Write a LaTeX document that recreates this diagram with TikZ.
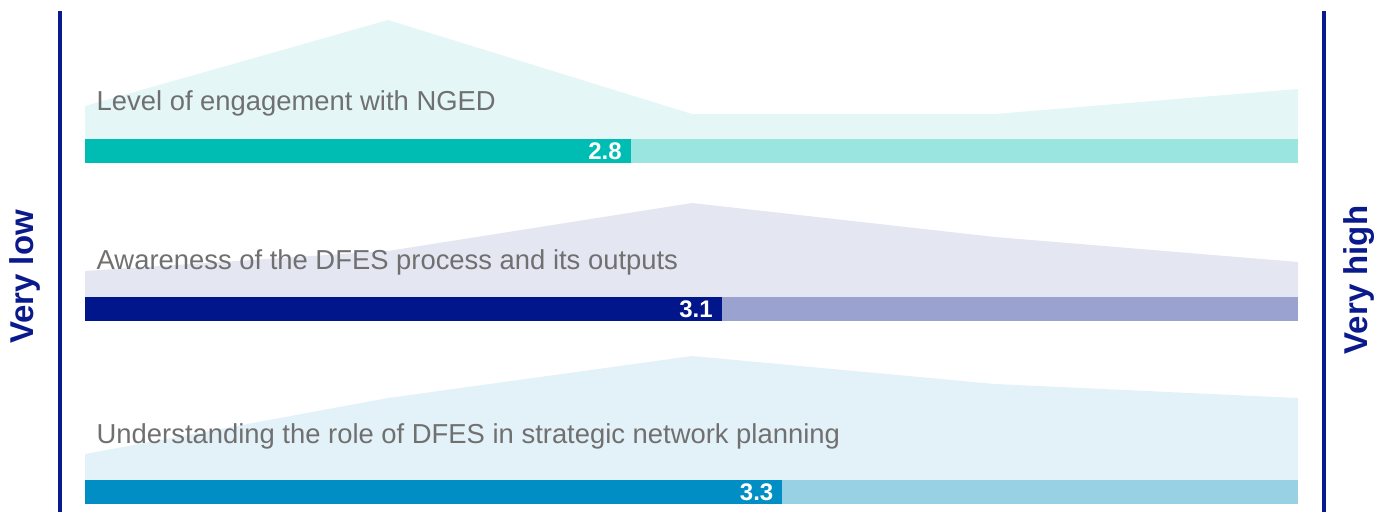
\documentclass[tikz,border=0pt]{standalone}
\usepackage{fontspec}
\setmainfont{Liberation Sans}
\usetikzlibrary{calc}
\definecolor{axisblue}{HTML}{0A1A8C}
\definecolor{titlegray}{HTML}{707070}
\definecolor{darkteal}{HTML}{00BDB4}
\definecolor{lightteal}{HTML}{9BE5E0}
\definecolor{areateal}{HTML}{E4F6F6}
\definecolor{darknavy}{HTML}{00168A}
\definecolor{lightnavy}{HTML}{9AA2CF}
\definecolor{areanavy}{HTML}{E4E6F2}
\definecolor{darksky}{HTML}{008EC4}
\definecolor{lightsky}{HTML}{99D1E4}
\definecolor{areasky}{HTML}{E3F2F8}
\tikzset{
  rowtitle/.style={text=titlegray,font=\fontsize{27.4}{32}\selectfont,inner sep=0pt,anchor=base west},
  barval/.style={text=white,font=\bfseries\fontsize{24}{28}\selectfont,inner sep=0pt,anchor=east},
  endlabel/.style={text=axisblue,font=\bfseries\fontsize{33}{38}\selectfont,rotate=90,inner sep=0pt},
  axisline/.style={draw=axisblue,line width=4.5pt}
}

\begin{document}
\begin{tikzpicture}[x=1pt,y=-1pt]
  \useasboundingbox (0,0) rectangle (1392,512);
  \foreach \n/\base/\ya/\yb/\yc/\yd/\ye/\avg/\c/\ty/\txt in {
      eng/139/106/20/114/114/89/2.8/teal/110/{Level of engagement with NGED},
      awa/297/271/251/203/237/262/3.1/navy/269/{Awareness of the DFES process and its outputs},
      und/480/454/398/356/384/398/3.3/sky/443/{Understanding the role of DFES in strategic network planning}}{
    \fill[fill=area\c] (85,\base) -- (85,\ya) -- (388,\yb) -- (692,\yc) -- (995,\yd) -- (1298,\ye) -- (1298,\base) -- cycle;
    \fill[fill=light\c] (85,\base) rectangle (1298,\base+24);
    \fill[fill=dark\c] (85,\base) rectangle ({85+(\avg-1)*303.25},\base+24);
    \node[barval] (v\n) at ({85+(\avg-1)*303.25-9},\base+12.5) {\avg};
    \node[rowtitle] (t\n) at (96.5,\ty) {\txt};
  }
  \draw[axisline] (60,11) -- (60,512);
  \draw[axisline] (1324,11) -- (1324,512);
  \node[endlabel] (low) at (25,277) {Very low};
  \node[endlabel] (high) at (1359,280) {Very high};
\end{tikzpicture}
\end{document}
